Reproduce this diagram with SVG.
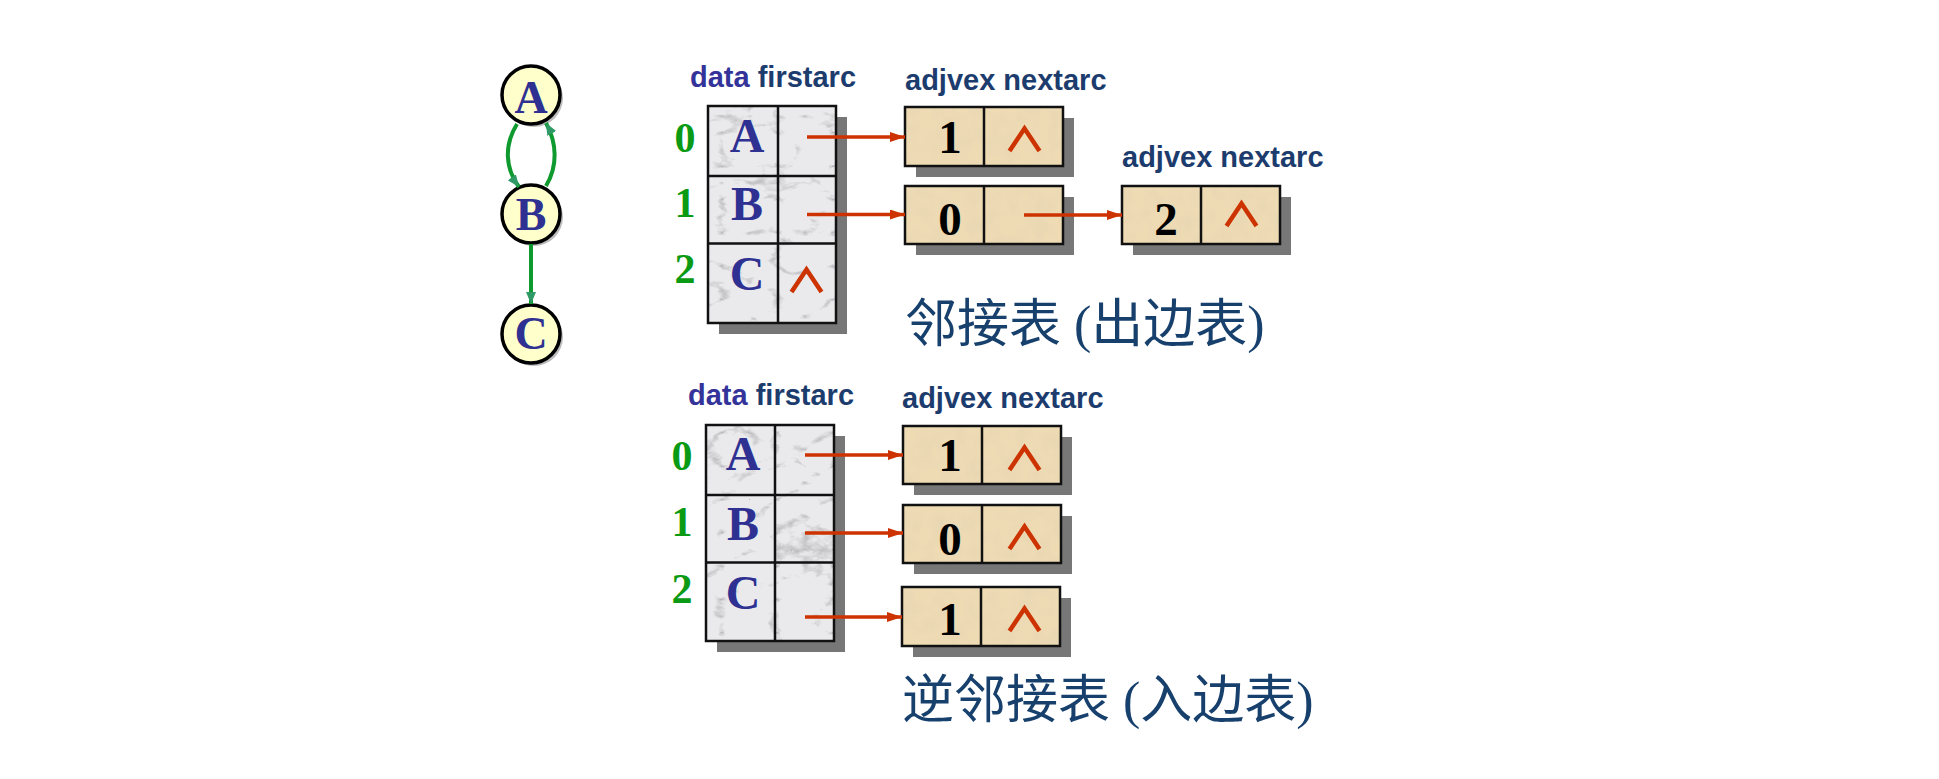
<svg xmlns="http://www.w3.org/2000/svg" width="1939" height="779" viewBox="0 0 1939 779">
<style>
.hdr{font-family:"Liberation Sans",Arial,sans-serif;font-weight:bold;font-size:29px;fill:#1d3c6e}
.hdr .d{fill:#33339a}
.idx{font-family:"Liberation Serif","Times New Roman",serif;font-weight:bold;font-size:42px;fill:#0a9a14;text-anchor:middle}
.let{font-family:"Liberation Serif","Times New Roman",serif;font-weight:bold;font-size:48px;fill:#2e3192;text-anchor:middle}
.gl{font-family:"Liberation Serif","Times New Roman",serif;font-weight:bold;font-size:46px;fill:#2e3192;text-anchor:middle}
.num{font-family:"Liberation Serif","Times New Roman",serif;font-weight:bold;font-size:47px;fill:#000;text-anchor:middle}
.title{font-family:"Liberation Serif","Noto Sans CJK SC",serif;font-size:52px;fill:#17406d}
.cell{stroke:#111;stroke-width:2.5}
.marble{fill:#eaeaec}
.parch{fill:#eedbb4}
.shadow{fill:#777777}
.arc{stroke:#cc3300;stroke-width:3.5;fill:none;marker-end:url(#ra)}
.gedge{stroke:#0e9a2e;stroke-width:4;fill:none;marker-end:url(#ga)}
.vert{fill:#ffffcc;stroke:#000;stroke-width:3.5}
</style>
<defs>
<marker id="ra" markerUnits="userSpaceOnUse" markerWidth="16" markerHeight="12" refX="15" refY="5" orient="auto">
<path d="M0,0 L15,5 L0,10 z" fill="#cc3300"/>
</marker>
<marker id="ga" markerUnits="userSpaceOnUse" markerWidth="14" markerHeight="12" refX="12" refY="5" orient="auto">
<path d="M0,0 L12,5 L0,10 z" fill="#2f9a66"/>
</marker>
<path id="nil" d="M1.5 24 L16.5 1.5 L31.5 24" fill="none" stroke="#cc3300" stroke-width="4.5" stroke-linejoin="miter"/>
<filter id="veins" x="0" y="0" width="100%" height="100%">
<feTurbulence type="turbulence" baseFrequency="0.018 0.03" numOctaves="4" seed="7" result="n"/>
<feColorMatrix in="n" type="matrix" values="0 0 0 0 0.4  0 0 0 0 0.4  0 0 0 0 0.42  -4 0 0 0 0.75" result="v"/>
<feComposite in="v" in2="SourceGraphic" operator="in"/>
</filter>
<filter id="speck" x="0" y="0" width="100%" height="100%">
<feTurbulence type="fractalNoise" baseFrequency="0.06" numOctaves="3" seed="3" result="n"/>
<feColorMatrix in="n" type="matrix" values="0 0 0 0 0.78  0 0 0 0 0.66  0 0 0 0 0.45  1.2 0 0 0 -0.45" result="v"/>
<feComposite in="v" in2="SourceGraphic" operator="in"/>
</filter>
</defs>

<!-- graph -->
<g id="graph-A">
<circle cx="534" cy="98" r="29" fill="#bdbdbd"/>
<circle class="vert" cx="531" cy="95" r="29"/>
<text class="gl" x="531" y="113">A</text>
</g>
<g id="graph-B">
<circle cx="534" cy="217" r="29" fill="#bdbdbd"/>
<circle class="vert" cx="531" cy="214" r="29"/>
<text class="gl" x="531" y="230">B</text>
</g>
<g id="graph-C">
<circle cx="534" cy="337" r="29" fill="#bdbdbd"/>
<circle class="vert" cx="531" cy="334" r="29"/>
<text class="gl" x="531" y="349">C</text>
</g>

<!-- out-edge adjacency list -->
<g id="hdr-top">
<text class="hdr" x="690" y="87"><tspan class="d">data</tspan> firstarc</text>
<text class="hdr" x="905" y="90">adjvex nextarc</text>
<text class="hdr" x="1122" y="167">adjvex nextarc</text>
</g>
<g id="table-top">
<rect class="shadow" x="719" y="117" width="128" height="217"/>
<rect class="marble" x="708" y="106" width="128" height="217"/>
<rect x="708" y="106" width="128" height="217" fill="#fff" filter="url(#veins)"/>
<rect class="cell" x="708" y="106" width="128" height="217" fill="none"/>
<path class="cell" d="M778 106 V323 M708 176 H836 M708 243.5 H836"/>
<text class="idx" x="685" y="152">0</text>
<text class="idx" x="685" y="217">1</text>
<text class="idx" x="685" y="283">2</text>
<text class="let" x="747" y="152">A</text>
<text class="let" x="747" y="220">B</text>
<text class="let" x="747" y="290">C</text>
<use href="#nil" x="790" y="268"/>
</g>
<g id="node-t0">
<rect class="shadow" x="916" y="118" width="158" height="59"/>
<rect class="parch" x="905" y="107" width="158" height="59"/>
<rect x="905" y="107" width="158" height="59" fill="#fff" filter="url(#speck)"/>
<rect class="cell" x="905" y="107" width="158" height="59" fill="none"/>
<path class="cell" d="M984 107 V166"/>
<text class="num" x="950" y="153">1</text>
<use href="#nil" x="1008" y="127"/>
</g>
<g id="node-t1">
<rect class="shadow" x="916" y="197" width="158" height="58"/>
<rect class="parch" x="905" y="186" width="158" height="58"/>
<rect x="905" y="186" width="158" height="58" fill="#fff" filter="url(#speck)"/>
<rect class="cell" x="905" y="186" width="158" height="58" fill="none"/>
<path class="cell" d="M984 186 V244"/>
<text class="num" x="950" y="235">0</text>
</g>
<g id="node-t2">
<rect class="shadow" x="1133" y="197" width="158" height="58"/>
<rect class="parch" x="1122" y="186" width="158" height="58"/>
<rect x="1122" y="186" width="158" height="58" fill="#fff" filter="url(#speck)"/>
<rect class="cell" x="1122" y="186" width="158" height="58" fill="none"/>
<path class="cell" d="M1201 186 V244"/>
<text class="num" x="1166" y="235">2</text>
<use href="#nil" x="1225" y="202"/>
</g>
<g id="title-top">
<text class="title" x="905" y="342">邻接表 (出边表)</text>
</g>

<!-- in-edge (inverse) adjacency list -->
<g id="hdr-bottom">
<text class="hdr" x="688" y="405"><tspan class="d">data</tspan> firstarc</text>
<text class="hdr" x="902" y="408">adjvex nextarc</text>
</g>
<g id="table-bottom">
<rect class="shadow" x="717" y="436" width="128" height="216"/>
<rect class="marble" x="706" y="425" width="128" height="216"/>
<rect x="706" y="425" width="128" height="216" fill="#fff" filter="url(#veins)"/>
<rect class="cell" x="706" y="425" width="128" height="216" fill="none"/>
<path class="cell" d="M775 425 V641 M706 495 H834 M706 562.5 H834"/>
<text class="idx" x="682" y="470">0</text>
<text class="idx" x="682" y="536">1</text>
<text class="idx" x="682" y="603">2</text>
<text class="let" x="743" y="470">A</text>
<text class="let" x="743" y="540">B</text>
<text class="let" x="743" y="609">C</text>
</g>
<g id="node-b0">
<rect class="shadow" x="914" y="437" width="158" height="58"/>
<rect class="parch" x="903" y="426" width="158" height="58"/>
<rect x="903" y="426" width="158" height="58" fill="#fff" filter="url(#speck)"/>
<rect class="cell" x="903" y="426" width="158" height="58" fill="none"/>
<path class="cell" d="M982 426 V484"/>
<text class="num" x="950" y="471">1</text>
<use href="#nil" x="1008" y="446"/>
</g>
<g id="node-b1">
<rect class="shadow" x="914" y="516" width="158" height="58"/>
<rect class="parch" x="903" y="505" width="158" height="58"/>
<rect x="903" y="505" width="158" height="58" fill="#fff" filter="url(#speck)"/>
<rect class="cell" x="903" y="505" width="158" height="58" fill="none"/>
<path class="cell" d="M982 505 V563"/>
<text class="num" x="950" y="555">0</text>
<use href="#nil" x="1008" y="525"/>
</g>
<g id="node-b2">
<rect class="shadow" x="913" y="598" width="158" height="59"/>
<rect class="parch" x="902" y="587" width="158" height="59"/>
<rect x="902" y="587" width="158" height="59" fill="#fff" filter="url(#speck)"/>
<rect class="cell" x="902" y="587" width="158" height="59" fill="none"/>
<path class="cell" d="M981 587 V646"/>
<text class="num" x="950" y="635">1</text>
<use href="#nil" x="1008" y="607"/>
</g>
<g id="title-bottom">
<text class="title" x="902" y="718">逆邻接表 (入边表)</text>
</g>

<!-- connectors -->
<g id="connectors">
<path class="gedge" d="M517 124 C504 145 505 168 519 187"/>
<path class="gedge" d="M546 186 C558 166 557 143 546 123"/>
<path class="gedge" d="M531 244 V304"/>
<path class="arc" d="M807 137 H905"/>
<path class="arc" d="M807 214.5 H905"/>
<path class="arc" d="M1024 215 H1122"/>
<path class="arc" d="M805 455 H903"/>
<path class="arc" d="M805 533 H903"/>
<path class="arc" d="M805 617 H902"/>
</g>
</svg>
